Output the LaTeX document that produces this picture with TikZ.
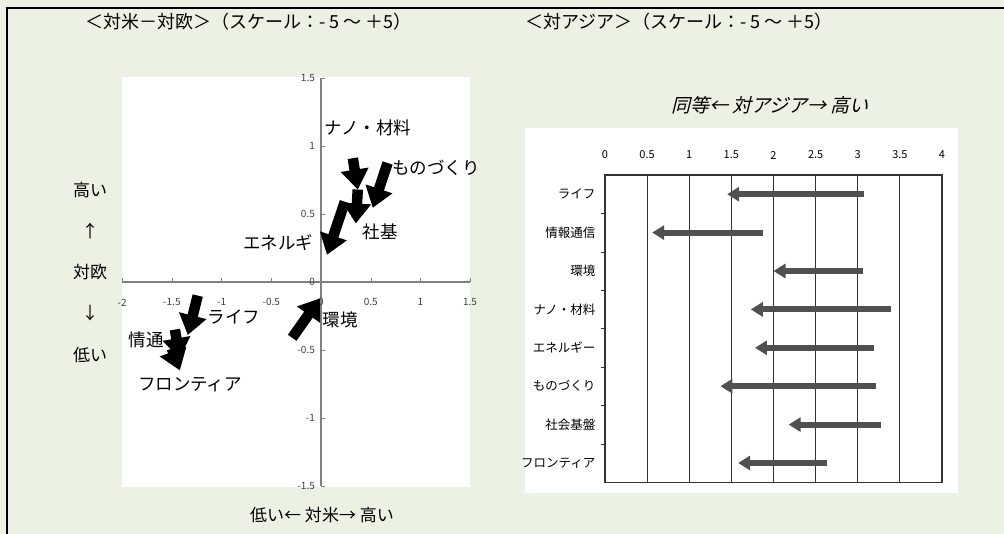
\documentclass[tikz,border=0pt]{standalone}
\usepackage{fontspec}
\setmainfont{Noto Sans CJK JP}
\newfontfamily\jpslant[FakeSlant=0.25]{Noto Sans CJK JP}
\usetikzlibrary{arrows.meta}
\definecolor{bgpale}{RGB}{235,241,227}
\definecolor{axisgray}{RGB}{128,128,128}
\definecolor{bargray}{RGB}{80,80,80}

\begin{document}
\begin{tikzpicture}[x=1pt,y=-1pt,
    title/.style={font=\fontsize{18}{18}\selectfont,anchor=west,inner sep=0pt},
    side label/.style={font=\fontsize{17}{17}\selectfont,inner sep=0pt},
    tick label/.style={font=\fontsize{10}{10}\selectfont,text=black!75,inner sep=1pt},
    cat label/.style={font=\fontsize{12.5}{12.5}\selectfont,anchor=east,inner sep=1pt},
    data label/.style={font=\fontsize{17.5}{17.5}\selectfont,inner sep=0pt},
    big arrow/.style={-{Triangle[width=27pt,length=20pt]},line width=10.5pt,black},
    bar arrow/.style={-{Triangle[width=14pt,length=12pt]},line width=6pt,bargray}]

    \useasboundingbox (0,0) rectangle (1004,534);
    \fill[bgpale] (0,0) rectangle (1004,534);
    \draw[line width=2.5pt] (7,534) -- (7,8) -- (1004,8);

    \node[title] (t1) at (85,22) {＜対米－対欧＞（スケール：- 5 ～ ＋5）};
    \node[title] (t2) at (525,22) {＜対アジア＞（スケール：- 5 ～ ＋5）};

    % left: US / Europe
    \fill[white] (122,77) rectangle (470,487);
    \begin{scope}[shift={(321,282)},x=99.4pt,y=136pt]
        \draw[axisgray,line width=1.2pt] (-2,0) -- (1.5,0);
        \draw[axisgray,line width=1.2pt] (0,-1.5) -- (0,1.5);
        \foreach \t in {-2,-1.5,-1,-0.5,0,0.5,1,1.5} {
            \draw[axisgray] (\t,0) -- ++(0,4pt);
            \node[tick label] (xt\t) at (\t,-0.15) {\t};
        }
        \foreach \t in {-1.5,-1,-0.5,0,0.5,1,1.5} {
            \draw[axisgray] (0,\t) -- ++(4pt,0);
            \node[tick label,anchor=east] (yt\t) at (-0.05,\t) {\t};
        }
        \foreach \n/\ax/\ay/\bx/\by in {nano/0.32/0.91/0.37/0.68,
                mono/0.67/0.875/0.52/0.545, shaki/0.37/0.68/0.35/0.43,
                ene/0.24/0.59/0.06/0.20, life/-1.24/-0.10/-1.34/-0.39,
                joho/-1.47/-0.35/-1.42/-0.56, front/-1.50/-0.49/-1.42/-0.65,
                kankyo/-0.29/-0.41/-0.01/-0.12} {
            \coordinate (\n0) at (\ax,\ay);
            \coordinate (\n1) at (\bx,\by);
            \draw[big arrow] (\n0) -- (\n1);
        }
    \end{scope}

    \node[data label] (lnano) at (368,128) {ナノ・材料};
    \node[data label] (lmono) at (436,168) {ものづくり};
    \node[data label] (lshaki) at (380,232) {社基};
    \node[data label] (lene) at (278,243) {エネルギ};
    \node[data label] (llife) at (234,317) {ライフ};
    \node[data label] (ljoho) at (146,340) {情通};
    \node[data label] (lfront) at (190,385) {フロンティア};
    \node[data label] (lkankyo) at (340,320) {環境};

    \node[side label] (hi) at (90,190) {高い};
    \node[side label] (up) at (90,231) {↑};
    \node[side label] (eu) at (90,272) {対欧};
    \node[side label] (dn) at (90,313) {↓};
    \node[side label] (lo) at (90,355) {低い};
    \node[side label] (us) at (322,515) {低い← 対米→ 高い};

    % right: Asia
    \fill[white] (525,128) rectangle (958,493);
    \node[font=\fontsize{19}{19}\selectfont\jpslant] (asia) at (770,105) {同等← 対アジア→ 高い};
    \begin{scope}[shift={(605,175)},x=84.25pt,y=-38.4pt]
        \draw[black!80,line width=1.2pt] (0,0) rectangle (4,8);
        \foreach \g in {0.5,1,1.5,2,2.5,3,3.5}
            \draw[black!80,line width=1.2pt] (\g,0) -- (\g,8);
        \foreach \t in {0,0.5,1,1.5,2,2.5,3,3.5,4}
            \node[tick label,text=black,font=\fontsize{11}{11}\selectfont] (at\t) at (\t,-0.52) {\t};
        \foreach \r in {1,...,7}
            \draw[black!80] (0,\r) -- ++(-4pt,0);
        \foreach \n/\r/\lab/\a/\b in {alife/1/ライフ/3.07/1.45,
                ajoho/2/情報通信/1.87/0.56, akankyo/3/環境/3.06/2.0,
                anano/4/ナノ・材料/3.40/1.73, aene/5/エネルギー/3.19/1.78,
                amono/6/ものづくり/3.22/1.37, ashaki/7/社会基盤/3.28/2.18,
                afront/8/フロンティア/2.63/1.58} {
            \node[cat label] (\n) at (-0.1,\r-0.5) {\lab};
            \coordinate (\n0) at (\a,\r-0.5);
            \coordinate (\n1) at (\b,\r-0.5);
            \draw[bar arrow] (\n0) -- (\n1);
        }
    \end{scope}
\end{tikzpicture}
\end{document}
